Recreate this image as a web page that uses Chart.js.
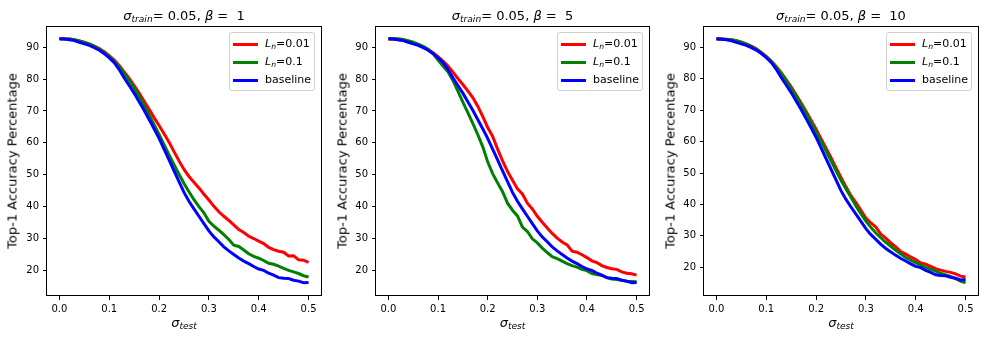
<!DOCTYPE html>
<html>
<head>
<meta charset="utf-8">
<script src="https://cdn.jsdelivr.net/npm/chart.js@4.4.1/dist/chart.umd.min.js"></script>
<style>
  body { margin: 0; background: #fff; width: 988px; height: 339px; overflow: hidden; position: relative;
         font-family: "DejaVu Sans", sans-serif; color: #000; }
  .panel { position: absolute; top: 0; height: 339px; }
  canvas { display: block; }
  .lbl { position: absolute; white-space: pre; transform: translate(-50%, -50%); line-height: 1; color: #000; }
  .title { font-size: 13px; top: 15px; }
  .xlab { font-size: 13px; top: 322px; }
  .ylab { font-size: 13px; top: 161px; transform: translate(-50%, -50%) rotate(-90deg); }
  sub { font-size: 70%; vertical-align: -0.25em; line-height: 0; }
  .legend { position: absolute; top: 32px; width: 84px; height: 55px; border: 1px solid #d0d0d0;
            border-radius: 3px; background: rgba(255,255,255,0.8); padding-top: 2px; box-sizing: content-box; }
  .row { position: relative; height: 18px; line-height: 18px; font-size: 11px; }
  .sw { position: absolute; left: 3px; top: 7.5px; width: 25px; height: 3px; }
  .row .txt { position: absolute; left: 35px; top: 0; white-space: nowrap; }
</style>
</head>
<body>
<script>
// sigma_test values on the x axis
const sigmaTest = [0.00, 0.01, 0.02, 0.03, 0.04, 0.05, 0.06, 0.07, 0.08, 0.09,
                   0.10, 0.11, 0.12, 0.13, 0.14, 0.15, 0.16, 0.17, 0.18, 0.19,
                   0.20, 0.21, 0.22, 0.23, 0.24, 0.25, 0.26, 0.27, 0.28, 0.29,
                   0.30, 0.31, 0.32, 0.33, 0.34, 0.35, 0.36, 0.37, 0.38, 0.39,
                   0.40, 0.41, 0.42, 0.43, 0.44, 0.45, 0.46, 0.47, 0.48, 0.49,
                   0.50];

// baseline (same in all three panels)
const baseline = [92.7, 92.6, 92.4, 92.1, 91.6, 91.1, 90.6, 89.9, 89.1, 88.0,
                  86.7, 85.2, 83.0, 80.4, 78.0, 75.6, 72.9, 70.2, 67.3, 64.4,
                  61.4, 58.0, 54.6, 51.2, 47.8, 44.4, 41.6, 39.2, 36.9, 34.6,
                  32.3, 30.4, 28.9, 27.3, 26.0, 24.9, 23.8, 22.8, 22.0, 21.1,
                  20.3, 19.9, 19.0, 18.4, 17.6, 17.4, 17.3, 16.8, 16.5, 16.0,
                  16.1];

// beta = 1
const ln001Beta1 = [92.8, 92.7, 92.6, 92.4, 92.0, 91.6, 91.1, 90.4, 89.6, 88.6,
                    87.4, 86.0, 84.3, 82.3, 80.2, 78.0, 75.6, 73.0, 70.5, 67.9,
                    65.4, 62.8, 60.2, 57.2, 54.3, 51.6, 49.4, 47.6, 45.8, 43.8,
                    42.0, 40.0, 38.3, 36.9, 35.6, 34.2, 32.7, 31.8, 30.6, 29.9,
                    29.1, 28.3, 27.1, 26.4, 25.9, 25.6, 24.4, 24.5, 23.2, 23.1,
                    22.4];
const ln01Beta1  = [92.6, 92.6, 92.6, 92.4, 92.0, 91.5, 91.0, 90.3, 89.4, 88.3,
                    87.1, 85.6, 83.9, 81.8, 79.6, 77.2, 74.6, 71.8, 68.8, 65.7,
                    62.6, 59.4, 56.2, 53.1, 50.1, 47.2, 44.6, 42.1, 39.9, 38.0,
                    35.3, 33.8, 32.5, 31.1, 29.6, 27.8, 27.4, 26.3, 25.1, 24.3,
                    23.7, 23.0, 22.1, 21.8, 21.2, 20.5, 19.9, 19.4, 18.9, 18.2,
                    17.8];

// beta = 5
const ln001Beta5 = [92.5, 92.5, 92.4, 92.2, 91.8, 91.3, 90.8, 90.1, 89.3, 88.3,
                    87.1, 85.7, 84.1, 82.2, 80.2, 78.3, 76.3, 74.2, 71.5, 68.3,
                    64.8, 62.0, 58.0, 54.3, 51.0, 48.2, 45.5, 43.9, 41.0, 39.2,
                    36.9, 35.0, 33.2, 31.5, 30.0, 28.8, 27.9, 25.9, 25.6, 24.8,
                    23.9, 22.9, 22.3, 21.4, 20.8, 20.4, 20.2, 19.4, 19.0, 18.8,
                    18.4];
const ln01Beta5  = [92.8, 92.8, 92.7, 92.5, 92.1, 91.6, 91.0, 90.3, 89.4, 88.0,
                    86.0, 84.1, 82.3, 79.6, 76.2, 72.8, 69.5, 66.1, 62.6, 58.8,
                    54.0, 50.3, 47.4, 44.6, 41.0, 38.8, 37.0, 33.5, 32.1, 29.8,
                    28.5, 26.9, 25.5, 24.2, 23.6, 22.8, 22.0, 21.4, 20.9, 20.2,
                    19.8, 18.9, 18.6, 18.3, 17.6, 17.2, 17.0, 16.8, 16.5, 16.4,
                    16.3];

// beta = 10
const ln001Beta10 = [92.8, 92.7, 92.6, 92.4, 92.1, 91.6, 91.1, 90.4, 89.5, 88.4,
                     87.1, 85.6, 83.9, 81.9, 79.7, 77.4, 74.9, 72.3, 69.6, 66.8,
                     63.9, 60.9, 57.9, 54.9, 51.7, 48.6, 45.6, 42.8, 40.6, 38.1,
                     35.7, 34.1, 32.8, 30.5, 29.3, 27.8, 26.5, 25.0, 24.2, 23.3,
                     22.5, 21.4, 21.0, 20.3, 19.6, 19.1, 18.7, 18.4, 17.9, 17.2,
                     16.9];
const ln01Beta10  = [92.6, 92.6, 92.5, 92.4, 92.1, 91.6, 91.0, 90.3, 89.4, 88.3,
                     87.0, 85.4, 83.7, 81.6, 79.4, 77.0, 74.5, 71.8, 69.0, 66.1,
                     63.1, 60.1, 57.0, 53.9, 50.8, 47.7, 44.9, 42.3, 39.5, 37.1,
                     34.7, 32.7, 30.9, 29.4, 27.9, 26.7, 25.4, 24.2, 23.1, 22.3,
                     21.5, 20.7, 20.0, 19.4, 18.8, 18.1, 17.6, 17.1, 16.4, 15.6,
                     15.1];

const betas   = [" 1", " 5", " 10"];
const xTicks  = [0.0, 0.1, 0.2, 0.3, 0.4, 0.5];
const yTicks  = [20, 30, 40, 50, 60, 70, 80, 90];

// layout of the three subplots (pixels / axis limits)
const panels = [
  { left: 0,   width: 330, plotLeft: 47, plotWidth: 274, yMin: 11.83, yMax: 96.70, ln001: ln001Beta1,  ln01: ln01Beta1,  beta: betas[0] },
  { left: 330, width: 328, plotLeft: 46, plotWidth: 273, yMin: 11.83, yMax: 96.70, ln001: ln001Beta5,  ln01: ln01Beta5,  beta: betas[1] },
  { left: 658, width: 330, plotLeft: 46, plotWidth: 274, yMin: 10.87, yMax: 96.78, ln001: ln001Beta10, ln01: ln01Beta10, beta: betas[2] }
];

const FONT = "'DejaVu Sans', sans-serif";
const toPts = ys => sigmaTest.map((x, i) => ({ x, y: ys[i] }));

// caja de ejes estilo matplotlib
const frame = {
  id: "frame",
  afterDraw(chart) {
    const a = chart.chartArea, ctx = chart.ctx;
    ctx.save();
    ctx.strokeStyle = "#000";
    ctx.lineWidth = 1;
    ctx.strokeRect(Math.round(a.left) - 0.5, Math.round(a.top) + 0.5,
                   Math.round(a.right - a.left) + 1, Math.round(a.bottom - a.top) - 1);
    ctx.restore();
  }
};

function addLabel(cls, left, html) {
  const d = document.createElement("div");
  d.className = "lbl " + cls;
  d.style.left = left + "px";
  d.innerHTML = html;
  document.body.appendChild(d);
}

function addLegend(left) {
  const items = [
    { color: "#ff0000", html: "<i>L<sub>n</sub></i>=0.01" },
    { color: "#008000", html: "<i>L<sub>n</sub></i>=0.1" },
    { color: "#0000ff", html: "baseline" }
  ];
  const box = document.createElement("div");
  box.className = "legend";
  box.style.left = left + "px";
  box.innerHTML = items.map(it =>
    `<div class="row"><span class="sw" style="background:${it.color}"></span><span class="txt">${it.html}</span></div>`
  ).join("");
  document.body.appendChild(box);
}

panels.forEach(p => {
  const wrap = document.createElement("div");
  wrap.className = "panel";
  wrap.style.left = p.left + "px";
  wrap.style.width = p.width + "px";
  const canvas = document.createElement("canvas");
  canvas.width = p.width;
  canvas.height = 339;
  wrap.appendChild(canvas);
  document.body.appendChild(wrap);

  const tickGrid = { display: true, drawOnChartArea: false, drawTicks: true, tickLength: 4, color: "#000", lineWidth: 1 };

  new Chart(canvas, {
    type: "line",
    data: {
      datasets: [
        { label: "Ln=0.01",  data: toPts(p.ln001),  borderColor: "#ff0000", order: 3 },
        { label: "Ln=0.1",   data: toPts(p.ln01),   borderColor: "#008000", order: 2 },
        { label: "baseline", data: toPts(baseline), borderColor: "#0000ff", order: 1 }
      ].map(d => Object.assign(d, { borderWidth: 3, pointRadius: 0, tension: 0, fill: false }))
    },
    options: {
      responsive: false,
      animation: false,
      devicePixelRatio: 1,
      layout: { padding: { left: 0, top: 26, bottom: 0, right: p.width - p.plotLeft - p.plotWidth } },
      plugins: { legend: { display: false }, tooltip: { enabled: false } },
      scales: {
        x: {
          type: "linear", min: -0.025, max: 0.525,
          afterBuildTicks: s => { s.ticks = xTicks.map(v => ({ value: v })); },
          afterFit: s => { s.height = 43; },
          grid: tickGrid,
          border: { display: false },
          ticks: { color: "#000", padding: 3, maxRotation: 0, font: { family: FONT, size: 10 },
                   callback: v => v.toFixed(1) }
        },
        y: {
          type: "linear", min: p.yMin, max: p.yMax,
          afterBuildTicks: s => { s.ticks = yTicks.map(v => ({ value: v })); },
          afterFit: s => { s.width = p.plotLeft; },
          grid: tickGrid,
          border: { display: false },
          ticks: { color: "#000", padding: 4, font: { family: FONT, size: 10 },
                   callback: v => String(v) }
        }
      }
    },
    plugins: [frame]
  });

  const cx = p.left + p.plotLeft + p.plotWidth / 2;
  addLabel("title", cx, `<i>σ<sub>train</sub></i>= 0.05, <i>β</i> = ${p.beta}`);
  addLabel("xlab", cx, `<i>σ<sub>test</sub></i>`);
  addLabel("ylab", p.left + 12, "Top-1 Accuracy Percentage");
  addLegend(p.left + p.plotLeft + p.plotWidth - 6 - 86);
});
</script>
</body>
</html>
